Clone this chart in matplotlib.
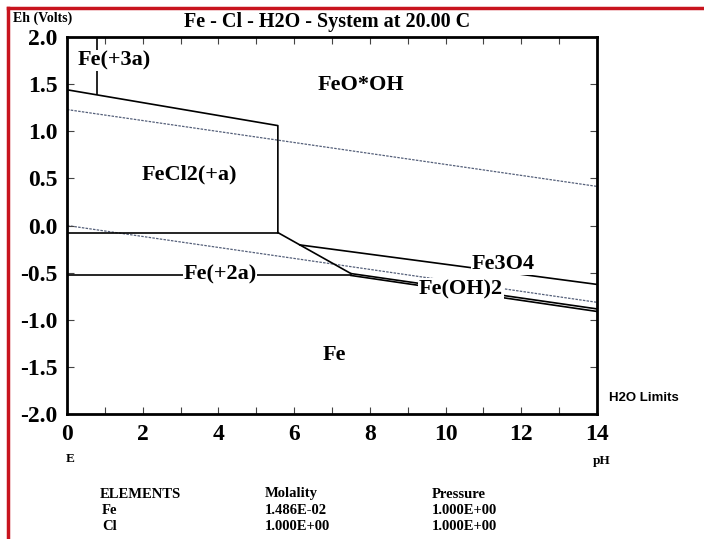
import matplotlib.pyplot as plt
from matplotlib.lines import Line2D
from matplotlib.ticker import MultipleLocator

# axis ticks
ph_ticks = [0, 2, 4, 6, 8, 10, 12, 14]
ph_tick_labels = ['0', '2', '4', '6', '8', '10', '12', '14']
eh_ticks = [2.0, 1.5, 1.0, 0.5, 0.0, -0.5, -1.0, -1.5, -2.0]
eh_tick_labels = ['2.0', '1.5', '1.0', '0.5', '0.0', '-0.5', '-1.0', '-1.5', '-2.0']

# water stability limits (dashed)
o2_limit_ph = [0, 14]
o2_limit_eh = [1.23, 0.415]
h2_limit_ph = [0, 14]
h2_limit_eh = [0.0, -0.815]

# phase boundaries
fe3_fecl2_ph = [0.80, 0.80]
fe3_fecl2_eh = [2.0, 1.40]
fecl2_feooh_ph = [0, 5.57, 5.57]
fecl2_feooh_eh = [1.44, 1.06, -0.075]
fecl2_fe2_ph = [0, 5.57]
fecl2_fe2_eh = [-0.075, -0.075]
fe2_oxide_ph = [5.57, 7.50]
fe2_oxide_eh = [-0.075, -0.51]
feooh_fe3o4_ph = [6.15, 14]
feooh_fe3o4_eh = [-0.206, -0.625]
fe2_fe_ph = [0, 7.50]
fe2_fe_eh = [-0.53, -0.53]
fe3o4_feoh2_ph = [7.50, 14]
fe3o4_feoh2_eh = [-0.51, -0.885]
feoh2_fe_ph = [7.50, 14]
feoh2_fe_eh = [-0.53, -0.912]

# region labels
region_names = ['Fe(+3a)', 'FeO*OH', 'FeCl2(+a)', 'Fe(+2a)', 'Fe3O4', 'Fe(OH)2', 'Fe']
region_ph = [0.29, 6.63, 1.98, 4.04, 10.70, 9.30, 6.76]
region_eh = [1.75, 1.49, 0.54, -0.52, -0.41, -0.675, -1.37]
region_ha = ['left', 'left', 'left', 'center', 'left', 'left', 'left']

# table under the plot
table_rows = [
    ['ELEMENTS', 'Molality', 'Pressure'],
    ['Fe', '1.486E-02', '1.000E+00'],
    ['Cl', '1.000E+00', '1.000E+00'],
]

serif = 'Liberation Serif'

fig = plt.figure(figsize=(7.04, 5.39), dpi=100)
ax = fig.add_axes([67 / 704, 1 - 414 / 539, 530 / 704, 377 / 539])

boundaries = [
    (fe3_fecl2_ph, fe3_fecl2_eh),
    (fecl2_feooh_ph, fecl2_feooh_eh),
    (fecl2_fe2_ph, fecl2_fe2_eh),
    (fe2_oxide_ph, fe2_oxide_eh),
    (feooh_fe3o4_ph, feooh_fe3o4_eh),
    (fe2_fe_ph, fe2_fe_eh),
    (fe3o4_feoh2_ph, fe3o4_feoh2_eh),
    (feoh2_fe_ph, feoh2_fe_eh),
]
for xs, ys in boundaries:
    ax.plot(xs, ys, color='black', lw=1.2, zorder=2)

for xs, ys in [(o2_limit_ph, o2_limit_eh), (h2_limit_ph, h2_limit_eh)]:
    ax.plot(xs, ys, color='#55607a', lw=0.9, ls=(0, (2, 1)), zorder=1)

for name, x, y, ha in zip(region_names, region_ph, region_eh, region_ha):
    ax.text(x, y, name, ha=ha, va='center', family=serif, weight='bold',
            fontsize=16, zorder=3,
            bbox=dict(facecolor='white', edgecolor='none', pad=0.5))

ax.set_xlim(0, 14)
ax.set_ylim(-2.0, 2.0)
ax.set_xticks(ph_ticks)
ax.set_xticklabels(ph_tick_labels)
ax.set_yticks(eh_ticks)
ax.set_yticklabels(eh_tick_labels)
ax.xaxis.set_minor_locator(MultipleLocator(1))
ax.tick_params(which='both', direction='in', top=True, right=True,
               length=5, width=0.8, color='#444444')
ax.tick_params(axis='both', pad=7)
for lab in ax.get_xticklabels() + ax.get_yticklabels():
    lab.set_family(serif)
    lab.set_weight('bold')
    lab.set_fontsize(17)
for sp in ax.spines.values():
    sp.set_linewidth(2.0)

fig.text(327 / 704, 1 - 22 / 539, 'Fe - Cl - H2O - System at 20.00 C',
         ha='center', va='center', family=serif, weight='bold', fontsize=14.5)
fig.text(13 / 704, 1 - 18 / 539, 'Eh (Volts)', ha='left', va='center',
         family=serif, weight='bold', fontsize=10)
fig.text(66 / 704, 1 - 459 / 539, 'E', ha='left', va='center',
         family=serif, weight='bold', fontsize=9.5)
fig.text(593 / 704, 1 - 461 / 539, 'pH', ha='left', va='center',
         family=serif, weight='bold', fontsize=9.5)
fig.text(609 / 704, 1 - 398 / 539, 'H2O Limits', ha='left', va='center',
         family='Liberation Sans', weight='bold', fontsize=9.5)

col_x = [100, 265, 432]
row_y = [494, 511, 526]
for r, row in enumerate(table_rows):
    for c, cell in enumerate(row):
        x = 102 if (r > 0 and c == 0) else col_x[c]
        fig.text(x / 704, 1 - row_y[r] / 539, cell, ha='left', va='center',
                 family=serif, weight='bold', fontsize=10.5)

# red frame of the scanned page
fig.add_artist(Line2D([8 / 704, 1.0], [1 - 8 / 539, 1 - 8 / 539], color='#c8141e', lw=2.5))
fig.add_artist(Line2D([8 / 704, 8 / 704], [0.0, 1 - 8 / 539], color='#c8141e', lw=2.5))

fig.savefig('out.png', dpi=100)
